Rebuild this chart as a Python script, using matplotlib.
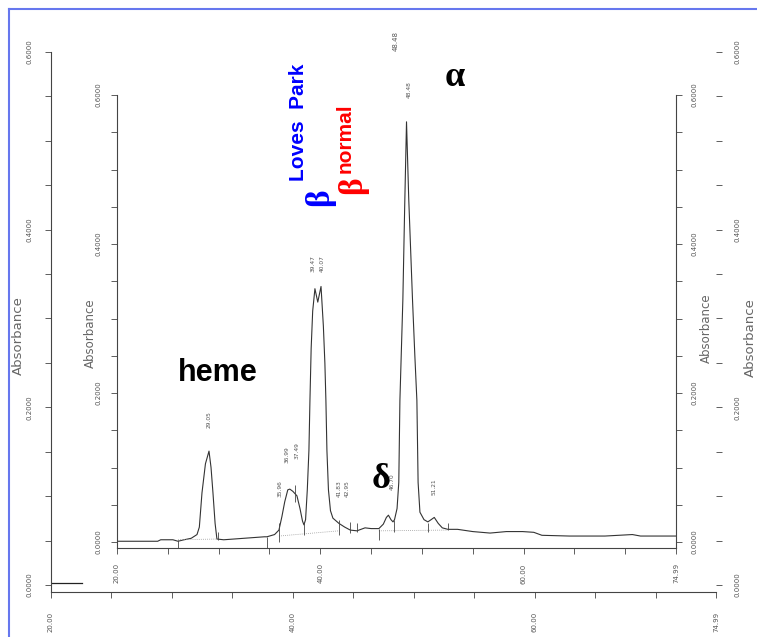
import numpy as np
import matplotlib
matplotlib.use('Agg')
import matplotlib.pyplot as plt
from matplotlib.ticker import FixedLocator, FixedFormatter
from matplotlib.lines import Line2D

# chromatogram trace (retention time in min, absorbance)
time = [20.0, 24.0, 24.3, 25.5, 26.0, 26.6, 27.3, 27.87, 28.1, 28.36, 28.7, 29.05,
        29.25, 29.44, 29.65, 29.83, 30.5, 31.5, 32.5, 33.5, 34.5, 34.75, 35.5, 35.93,
        36.22, 36.5, 36.8, 37.0, 37.3, 37.7, 38.0, 38.25, 38.39, 38.55, 38.72, 38.88,
        38.98, 39.1, 39.25, 39.47, 39.75, 40.07, 40.3, 40.45, 40.55, 40.65, 40.8, 41.0,
        41.24, 41.83, 42.4, 42.95, 43.6, 44.4, 45.0, 45.76, 46.2, 46.5, 46.7, 46.95,
        47.15, 47.3, 47.55, 47.72, 47.83, 47.98, 48.12, 48.3, 48.48, 48.7, 49.07, 49.3,
        49.5, 49.62, 49.8, 50.2, 50.58, 50.9, 51.21, 51.6, 52.0, 52.55, 53.5, 55.0,
        56.7, 58.3, 59.9, 61.0, 61.8, 64.5, 68.0, 70.7, 71.5, 74.99]
absorbance = [0.001, 0.001, 0.003, 0.003, 0.001, 0.003, 0.005, 0.010, 0.020, 0.066, 0.105, 0.122,
              0.100, 0.066, 0.025, 0.004, 0.003, 0.004, 0.005, 0.006, 0.007, 0.007, 0.010, 0.016,
              0.034, 0.054, 0.070, 0.071, 0.068, 0.062, 0.045, 0.028, 0.023, 0.030, 0.070, 0.123,
              0.190, 0.260, 0.310, 0.340, 0.322, 0.343, 0.290, 0.240, 0.190, 0.123, 0.070, 0.042,
              0.032, 0.025, 0.020, 0.016, 0.015, 0.019, 0.018, 0.018, 0.024, 0.033, 0.036, 0.030,
              0.027, 0.030, 0.045, 0.080, 0.190, 0.260, 0.325, 0.450, 0.564, 0.460, 0.325, 0.250,
              0.190, 0.080, 0.040, 0.030, 0.027, 0.030, 0.033, 0.025, 0.019, 0.017, 0.017, 0.014,
              0.012, 0.014, 0.014, 0.013, 0.009, 0.008, 0.008, 0.010, 0.008, 0.008]

# trace fragment visible on the back (offset) chart
back_time = [20.0, 22.56]
back_abs = [0.002, 0.002]

# integration marks and baselines
mark_time = [26.0, 29.93, 34.75, 35.93, 37.5, 38.39, 41.83, 42.91, 43.6, 45.76, 47.24, 50.58, 52.55]
mark_low = [-0.008, 0.003, -0.008, 0.0, 0.054, 0.009, 0.009, 0.012, 0.013, 0.003, 0.013, 0.013, 0.016]
mark_high = [0.003, 0.013, 0.007, 0.025, 0.077, 0.025, 0.030, 0.027, 0.025, 0.017, 0.030, 0.025, 0.025]
base_time = [[26.0, 29.93], [35.93, 41.83], [45.76, 52.55]]
base_abs = [[0.003, 0.004], [0.008, 0.015], [0.015, 0.016]]

peak_labels = ['29.05', '35.96', '36.99', '37.49', '39.47', '40.07',
               '41.83', '42.95', '46.70', '48.48', '51.21']
peak_label_x = [29.05, 36.03, 36.7, 37.7, 39.27, 40.16, 41.83, 42.6, 47.04, 48.71, 51.17]
peak_label_y = [0.164, 0.071, 0.117, 0.123, 0.374, 0.374, 0.072, 0.072, 0.081, 0.607, 0.074]

y_major = [0.0, 0.2, 0.4, 0.6]
y_major_labels = ['0.0000', '0.2000', '0.4000', '0.6000']
x_major = [20, 40, 60, 74.99]
x_major_labels = ['20.00', '40.00', '60.00', '74.99']

W, H = 757, 637
fig = plt.figure(figsize=(W / 100, H / 100), dpi=100)
fig.patch.set_facecolor('white')

tick_kw = dict(labelsize=5, labelcolor='#555555', color='#444444')


def setup(ax, xpad, ypad, right_spine):
    ax.set_facecolor('none')
    ax.set_xlim(20, 74.99)
    ax.spines['top'].set_visible(False)
    ax.spines['right'].set_visible(right_spine)
    for s in ['left', 'bottom', 'right']:
        ax.spines[s].set_linewidth(0.8)
        ax.spines[s].set_color('#444444')
    ax.xaxis.set_major_locator(FixedLocator(x_major))
    ax.xaxis.set_major_formatter(FixedFormatter(x_major_labels))
    ax.xaxis.set_minor_locator(FixedLocator(list(range(25, 75, 5))))
    ax.yaxis.set_major_locator(FixedLocator(y_major))
    ax.yaxis.set_major_formatter(FixedFormatter(y_major_labels))
    ax.yaxis.set_minor_locator(FixedLocator([i * 0.05 for i in range(13)]))
    ax.tick_params(axis='x', which='both', direction='out', length=4, width=0.6, pad=xpad,
                   labelrotation=90, **tick_kw)
    ax.tick_params(axis='y', which='both', direction='out', length=4, width=0.6, pad=ypad,
                   labelrotation=90, right=True, labelright=True, **tick_kw)
    for lab in ax.get_yticklabels():
        lab.set_verticalalignment('center')


# back chart (offset copy)
ax_out = fig.add_axes([51 / W, (H - 592) / H, 665 / W, 540 / H])
ax_out.set_ylim(-0.00788, 0.6)
setup(ax_out, 10, 9, False)
ax_out.plot(back_time, back_abs, color='#222222', lw=0.9)
ax_out.text(48.48, 0.612, '48.48', rotation=90, fontsize=5, color='#555555',
            ha='center', va='center', clip_on=False)

# front chart
ax_in = fig.add_axes([117 / W, (H - 548) / H, 559 / W, 453 / H])
ax_in.set_ylim(-0.00805, 0.6)
setup(ax_in, 7, 7, True)
ax_in.plot(time, absorbance, color='#333333', lw=0.8)
for (t0, t1), (a0, a1) in zip(base_time, base_abs):
    ax_in.plot([t0, t1], [a0, a1], color='#999999', lw=0.6, ls=(0, (1, 1.5)))
ax_in.vlines(mark_time, mark_low, mark_high, color='#444444', lw=0.6)
for lab, x, y in zip(peak_labels, peak_label_x, peak_label_y):
    ax_in.text(x, y, lab, rotation=90, fontsize=4.2, color='#555555',
               ha='center', va='center', clip_on=False)

# axis titles
for (px, py, fs) in [(18, 336, 9.5), (90, 333, 8.5), (706, 328, 8.5), (750, 338, 9.5)]:
    fig.text(px / W, 1 - py / H, 'Absorbance', rotation=90, fontsize=fs,
             color='#666666', ha='center', va='center')

# annotations
serif = 'Liberation Serif'
sans = 'Liberation Sans'
fig.text(218 / W, 1 - 373 / H, 'heme', fontsize=22, fontweight='bold', family=sans,
         ha='center', va='center')
fig.text(455 / W, 1 - 77 / H, 'α', fontsize=26, fontweight='bold', family=serif,
         ha='center', va='center')
fig.text(381 / W, 1 - 479 / H, 'δ', fontsize=26, fontweight='bold', family=serif,
         ha='center', va='center')
fig.text(320 / W, 1 - 197 / H, 'β', fontsize=24, fontweight='bold', family=serif,
         color='#0000ff', rotation=90, ha='center', va='center')
fig.text(299 / W, 1 - 122 / H, 'Loves  Park', fontsize=15, fontweight='bold', family=sans,
         color='#0000ff', rotation=90, ha='center', va='center')
fig.text(353 / W, 1 - 185 / H, 'β', fontsize=24, fontweight='bold', family=serif,
         color='#ff0000', rotation=90, ha='center', va='center')
fig.text(345 / W, 1 - 138 / H, 'normal', fontsize=15, fontweight='bold', family=sans,
         color='#ff0000', rotation=90, ha='center', va='center')

# slide frame edges
frame = '#6677ee'
fig.add_artist(Line2D([9 / W, 1], [1 - 9 / H, 1 - 9 / H], color=frame, lw=1.5))
fig.add_artist(Line2D([9 / W, 9 / W], [0, 1 - 9 / H], color=frame, lw=1.5))

fig.savefig('out.png', dpi=100)
